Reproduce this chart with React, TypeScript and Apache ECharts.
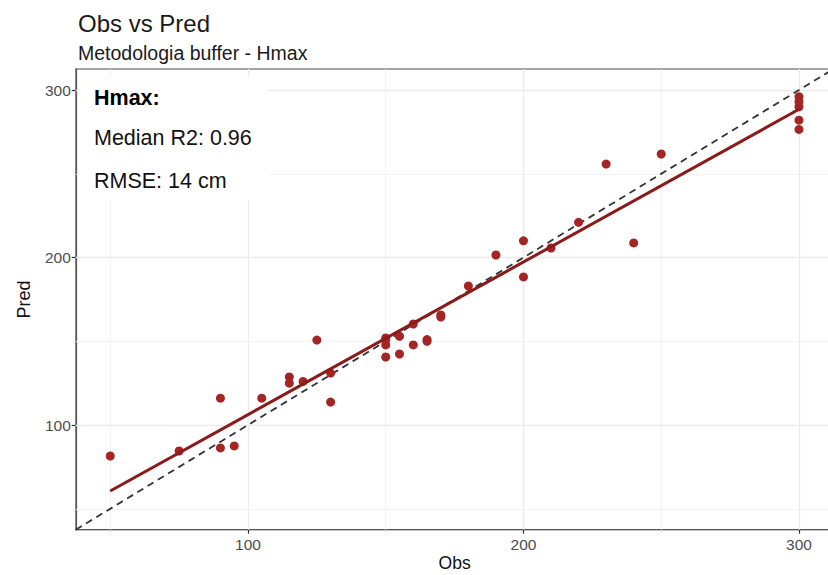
import React, { useEffect, useRef } from "react";
import * as echarts from "echarts";

const obs = [50, 75, 90, 90, 95, 105, 115, 115, 120, 125, 130, 130, 150, 150, 150, 150, 155, 155, 160, 160, 165, 165, 170, 170, 180, 190, 200, 200, 210, 220, 230, 240, 250, 300, 300, 300, 300, 300];
const pred = [81.5, 84.5, 116, 86.3, 87.5, 116, 128.7, 125, 126, 150.7, 131, 113.7, 152, 150.7, 147.8, 140.6, 153, 142.4, 160.3, 147.8, 150, 151, 165.7, 164.5, 183, 201.5, 210, 188.4, 205.7, 221, 255.8, 208.7, 261.8, 296, 293, 290, 282, 276.5];
const fitX = [50, 300];
const fitY = [60.6, 288.5];
const axisMin = 37.5;
const axisMax = 312.5;
const majorTicks = [100, 200, 300];
const minorTicks = [50, 150, 250];
const annotation = ["Hmax:", "Median R2: 0.96", "RMSE: 14 cm"];

const FONT = "Liberation Sans, Arial, sans-serif";

export default function App() {
  const ref = useRef<HTMLDivElement>(null);
  useEffect(() => {
    if (!ref.current) return;
    const chart = echarts.init(ref.current, null, { renderer: "svg" });
    const gridLines: any[] = [];
    majorTicks.forEach((v) => {
      gridLines.push({ xAxis: v, lineStyle: { color: "#ebebeb", width: 1.3, type: "solid" } });
      gridLines.push({ yAxis: v, lineStyle: { color: "#ebebeb", width: 1.3, type: "solid" } });
    });
    minorTicks.forEach((v) => {
      gridLines.push({ xAxis: v, lineStyle: { color: "#f0f0f0", width: 0.8, type: "solid" } });
      gridLines.push({ yAxis: v, lineStyle: { color: "#f0f0f0", width: 0.8, type: "solid" } });
    });
    const axisCommon = {
      type: "value",
      min: axisMin,
      max: axisMax,
      splitLine: { show: false },
      axisLine: { show: true, lineStyle: { color: "#555", width: 1.2 } },
      axisTick: { show: true, customValues: majorTicks, length: 4, lineStyle: { color: "#333", width: 1.2 } },
      axisLabel: { customValues: majorTicks, color: "#4d4d4d", fontSize: 15.5, fontFamily: FONT, margin: 5 },
      nameLocation: "middle",
      nameTextStyle: { color: "#111", fontSize: 18, fontFamily: FONT },
    };
    chart.setOption({
      animation: false,
      backgroundColor: "#fff",
      title: {
        text: "Obs vs Pred",
        subtext: "Metodologia buffer - Hmax",
        left: 73,
        top: 6,
        itemGap: 8,
        textStyle: { color: "#1a1a1a", fontSize: 24, fontWeight: "normal", fontFamily: FONT },
        subtextStyle: { color: "#1a1a1a", fontSize: 19.5, fontFamily: FONT },
      },
      grid: {
        left: 75.8,
        right: 6.6,
        top: 69.1,
        bottom: 45.3,
        outerBoundsMode: "none",
        containLabel: false,
        show: true,
        borderColor: "#888",
        borderWidth: 1.5,
        backgroundColor: "transparent",
      },
      xAxis: {
        ...axisCommon,
        name: "Obs",
        nameGap: 24,
        nameMoveOverlap: false,
        nameTextStyle: { ...axisCommon.nameTextStyle, fontSize: 17.5, lineHeight: 18 },
        axisLabel: { ...axisCommon.axisLabel, margin: 7 },
      },
      yAxis: { ...axisCommon, name: "Pred", nameGap: 43 },
      graphic: [
        {
          type: "group",
          z: 100,
          children: [
            { type: "rect", shape: { x: 78, y: 76, width: 189, height: 124 }, style: { fill: "#fff" }, z: 100 },
            { type: "text", x: 94, y: 98, style: { text: annotation[0], fill: "#000", font: `bold 21.5px ${FONT}`, textVerticalAlign: "middle" }, z: 101 },
            { type: "text", x: 94, y: 138, style: { text: annotation[1], fill: "#111", font: `21.5px ${FONT}`, textVerticalAlign: "middle" }, z: 101 },
            { type: "text", x: 94, y: 181, style: { text: annotation[2], fill: "#111", font: `21.5px ${FONT}`, textVerticalAlign: "middle" }, z: 101 },
          ],
        },
      ],
      series: [
        {
          type: "line",
          data: [],
          silent: true,
          z: 1,
          markLine: { silent: true, symbol: "none", label: { show: false }, data: gridLines, z: 1 },
        },
        {
          type: "line",
          data: [[axisMin, axisMin], [axisMax, axisMax]],
          showSymbol: false,
          symbol: "none",
          lineStyle: { color: "#333", width: 1.8, type: [7, 5] },
          z: 3,
        },
        {
          type: "scatter",
          data: obs.map((o, i) => [o, pred[i]]),
          symbolSize: 9,
          itemStyle: { color: "#a52525", opacity: 1 },
          z: 4,
        },
        {
          type: "line",
          data: fitX.map((x, i) => [x, fitY[i]]),
          showSymbol: false,
          symbol: "none",
          lineStyle: { color: "#8b1a1a", width: 3 },
          z: 5,
        },
      ],
    });
    return () => chart.dispose();
  }, []);
  return (
    <div style={{ position: "fixed", left: 0, top: 0, width: 828, height: 575, overflow: "hidden", background: "#fff" }}>
      <div ref={ref} style={{ width: 840, height: 575 }} />
    </div>
  );
}
